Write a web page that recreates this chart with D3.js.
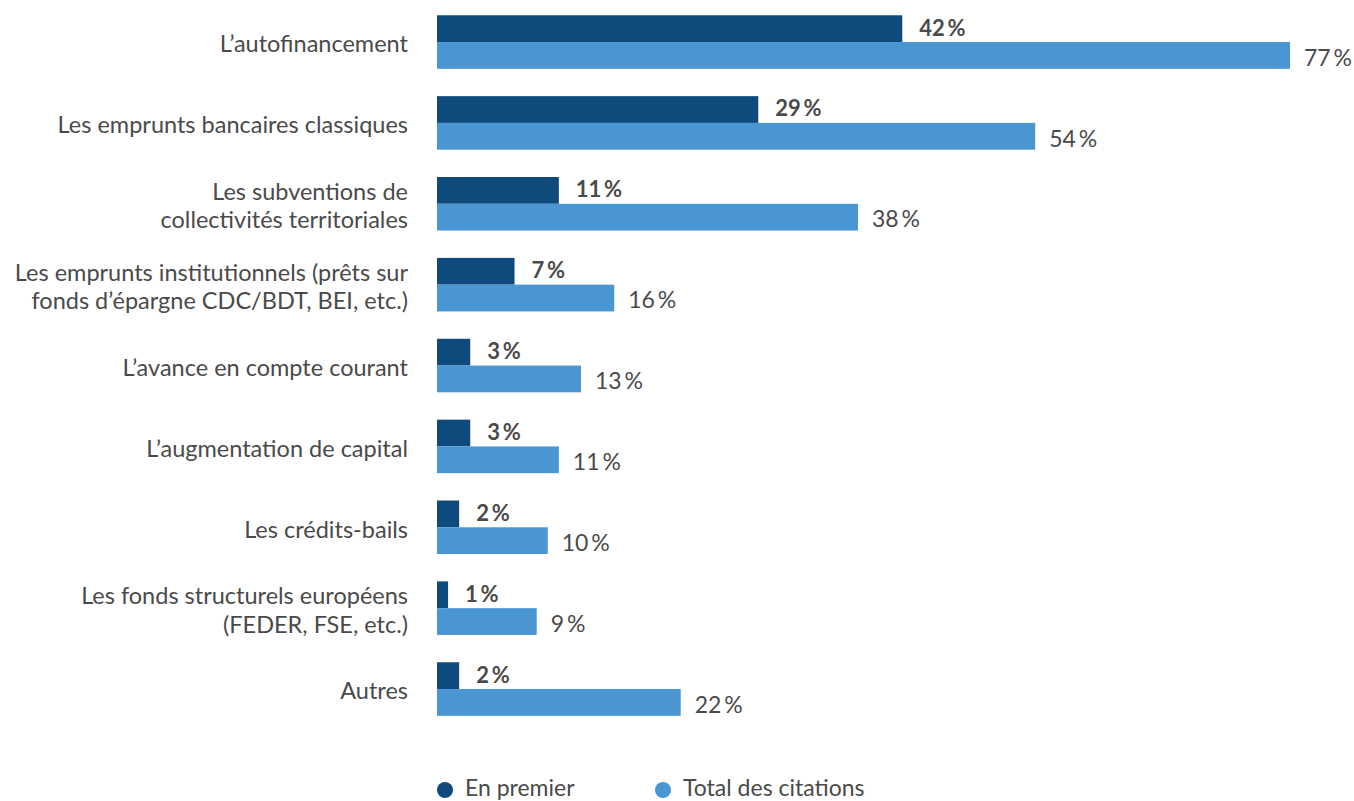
<!DOCTYPE html>
<html>
<head>
<meta charset="utf-8">
<script src="https://cdn.jsdelivr.net/npm/d3@7"></script>
<style>
  body { margin: 0; background: #fff; }
  text { font-family: Lato, "Open Sans", sans-serif; fill: #4a4a4a; }
</style>
</head>
<body>
<div id="chart"></div>
<script>
// data
let categories = [
    ["L\u2019autofinancement"],
    ["Les emprunts bancaires classiques"],
    ["Les subventions de", "collectivités territoriales"],
    ["Les emprunts institutionnels (prêts sur", "fonds d\u2019épargne CDC/BDT, BEI, etc.)"],
    ["L\u2019avance en compte courant"],
    ["L\u2019augmentation de capital"],
    ["Les crédits-bails"],
    ["Les fonds structurels européens", "(FEDER, FSE, etc.)"],
    ["Autres"]
];
let enPremier = [42, 29, 11, 7, 3, 3, 2, 1, 2];
let totalCitations = [77, 54, 38, 16, 13, 11, 10, 9, 22];
let seriesNames = ["En premier", "Total des citations"];

let darkBlue = "#0f4a7d",
    lightBlue = "#4a96d3";

let width = 1354, height = 801;

let svg = d3.select("#chart")
    .append("svg")
    .attr("width", width)
    .attr("height", height);

// x scale: bars start at 437
let x = d3.scaleLinear()
    .domain([0, 77])
    .range([437, 1290]);

// y scale for the rows
let y = d3.scaleBand()
    .domain(d3.range(categories.length))
    .range([1.6, 1.6 + 80.875 * categories.length])
    .paddingInner(0.338)
    .paddingOuter(0.169);

let bh = y.bandwidth() / 2;

let rows = svg.append("g")
    .selectAll("g")
    .data(categories)
    .enter()
    .append("g")
    .attr("transform", function (d, i) { return "translate(0," + y(i) + ")"; });

// dark bars
rows.append("rect")
    .attr("x", x(0))
    .attr("y", 0)
    .attr("width", function (d, i) { return x(enPremier[i]) - x(0); })
    .attr("height", bh)
    .style("fill", darkBlue);

// light bars
rows.append("rect")
    .attr("x", x(0))
    .attr("y", bh)
    .attr("width", function (d, i) { return x(totalCitations[i]) - x(0); })
    .attr("height", bh)
    .style("fill", lightBlue);

// value labels
rows.append("text")
    .attr("x", function (d, i) { return x(enPremier[i]) + 17; })
    .attr("y", bh / 2 - 1)
    .attr("dy", "0.36em")
    .style("font-size", "22px")
    .style("font-weight", "bold")
    .text(function (d, i) { return enPremier[i] + "\u2009%"; });

rows.append("text")
    .attr("x", function (d, i) { return x(totalCitations[i]) + 14; })
    .attr("y", bh * 1.5 + 2)
    .attr("dy", "0.36em")
    .style("font-size", "23px")
    .text(function (d, i) { return totalCitations[i] + "\u2009%"; });

// category labels
let lineH = 28.5;
rows.append("text")
    .attr("text-anchor", "end")
    .style("font-size", "23.5px")
    .each(function (d) {
        let t = d3.select(this);
        let y0 = bh - (d.length - 1) * lineH / 2;
        d.forEach(function (line, k) {
            t.append("tspan")
                .attr("x", 408)
                .attr("y", y0 + k * lineH + 2)
                .attr("dy", "0.35em")
                .text(line);
        });
    });

// legend
let legendX = [445, 663];
let legend = svg.selectAll("legendItem")
    .data(seriesNames)
    .enter()
    .append("g")
    .attr("transform", function (d, i) { return "translate(" + legendX[i] + ",790)"; });

legend.append("circle")
    .attr("r", 8)
    .style("fill", function (d, i) { return i === 0 ? darkBlue : lightBlue; });

legend.append("text")
    .attr("x", 20)
    .attr("y", 6)
    .style("font-size", "23px")
    .text(function (d) { return d; });
</script>
</body>
</html>
